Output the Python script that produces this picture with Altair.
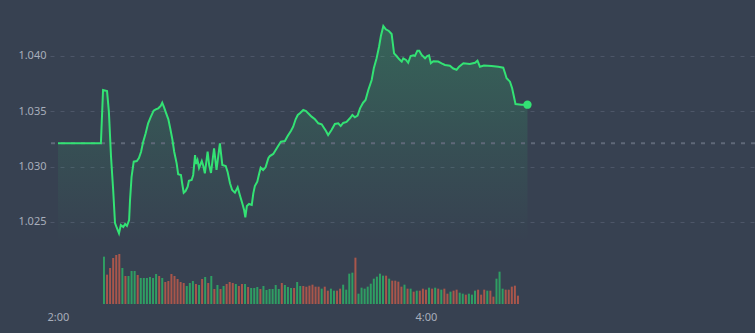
import altair as alt
import pandas as pd

# ---- price line (minutes after 2:00, price) ----
minutes = [0, 14.0, 14.7, 16.0, 16.6, 17.3, 18.0, 18.6, 19.2, 19.9, 20.5, 21.3, 21.9, 22.5, 23.2, 23.5,
           24.0, 24.7, 25.7, 26.4, 27.1, 27.8, 28.6, 29.4, 30.3, 31.2, 31.9, 32.7, 33.5, 34.0, 34.6,
           35.2, 36.0, 36.6, 37.3, 37.9, 38.7, 39.2, 40.1, 40.5, 41.0, 41.6, 42.3, 42.7, 43.6, 44.1,
           44.7, 45.0, 45.5, 46.0, 46.9, 47.4, 47.9, 48.8, 49.3, 49.9, 50.9, 51.7, 52.8, 53.6, 54.7,
           55.3, 56.1, 56.8, 57.7, 58.6, 59.3, 60.1, 60.7, 61.1, 61.6, 62.3, 63.2, 63.7, 64.2, 65.0,
           65.5, 66.1, 66.9, 67.7, 68.6, 69.1, 70.2, 71.0, 71.8, 72.7, 74.0, 74.9, 76.0, 76.7, 77.5,
           78.2, 78.9, 80.0, 80.9, 81.6, 82.7, 83.8, 84.9, 86.0, 86.5, 87.4, 88.1, 89.2, 90.3, 91.4,
           92.2, 93.0, 94.1, 95.2, 96.0, 96.8, 97.7, 98.5, 99.5, 100.3, 101.2, 102.3, 103.0, 103.9,
           104.7, 105.3, 106.1, 106.9, 107.9, 108.8, 109.6, 110.4, 111.3, 112.1, 112.6, 113.5, 114.2,
           115.0, 115.9, 116.4, 117.2, 117.8, 118.6, 119.7, 120.4, 121.0, 121.6, 122.4, 124.0, 125.1,
           126.2, 127.8, 128.9, 130.0, 130.8, 132.2, 134.3, 136.0, 136.8, 137.6, 138.9, 141.4, 143.6,
           145.2, 145.8, 146.3, 147.4, 148.1, 148.8, 149.2, 151.2, 153.1]
prices = [1.03211, 1.03211, 1.03693, 1.03684, 1.03497, 1.03090, 1.02789, 1.02491, 1.02446, 1.02398,
          1.02473, 1.02455, 1.02482, 1.02464, 1.02518, 1.02699, 1.02909, 1.03045, 1.03051, 1.03078,
          1.03135, 1.03226, 1.03302, 1.03392, 1.03452, 1.03506, 1.03518, 1.03527, 1.03548, 1.03578,
          1.03536, 1.03488, 1.03428, 1.03347, 1.03247, 1.03135, 1.03030, 1.02931, 1.02925, 1.02850,
          1.02765, 1.02780, 1.02819, 1.02873, 1.02880, 1.02925, 1.03105, 1.03024, 1.03060, 1.02988,
          1.03051, 1.03006, 1.02940, 1.03135, 1.03015, 1.02943, 1.03166, 1.02970, 1.03211, 1.03015,
          1.03006, 1.02955, 1.02850, 1.02789, 1.02765, 1.02814, 1.02744, 1.02669, 1.02608, 1.02542,
          1.02645, 1.02663, 1.02654, 1.02759, 1.02825, 1.02864, 1.02925, 1.02991, 1.02970, 1.02994,
          1.03076, 1.03096, 1.03115, 1.03151, 1.03187, 1.03226, 1.03232, 1.03277, 1.03325, 1.03361,
          1.03428, 1.03467, 1.03482, 1.03512, 1.03503, 1.03482, 1.03452, 1.03428, 1.03392, 1.03383,
          1.03361, 1.03322, 1.03286, 1.03331, 1.03386, 1.03392, 1.03367, 1.03395, 1.03404, 1.03437,
          1.03467, 1.03446, 1.03461, 1.03527, 1.03578, 1.03602, 1.03693, 1.03783, 1.03889, 1.03979,
          1.04084, 1.04181, 1.04271, 1.04241, 1.04226, 1.04199, 1.04024, 1.04000, 1.03970, 1.03949,
          1.03979, 1.03964, 1.03939, 1.04000, 1.04006, 1.04000, 1.04048, 1.04048, 1.04009, 1.03979,
          1.04000, 1.04006, 1.03934, 1.03952, 1.03950, 1.03934, 1.03919, 1.03912, 1.03887, 1.03876,
          1.03903, 1.03934, 1.03928, 1.03939, 1.03958, 1.03903, 1.03914, 1.03910, 1.03903, 1.03894,
          1.03844, 1.03799, 1.03768, 1.03708, 1.03618, 1.03566, 1.03560, 1.03560]
prev_close = 1.03211

# ---- volume bars (one per minute, from 2:15) ----
vol_minutes = list(range(15, 151))
volumes = [142, 88, 108, 138, 147, 150, 108, 84, 84, 99, 99, 87, 78, 78, 78, 81, 78, 90, 84, 78,
           66, 69, 90, 84, 75, 66, 63, 54, 63, 69, 60, 57, 75, 81, 63, 84, 45, 57, 45, 54,
           60, 66, 63, 60, 54, 60, 60, 51, 48, 48, 51, 45, 54, 42, 45, 45, 57, 45, 63, 57,
           51, 48, 48, 66, 54, 54,
           52, 55, 58, 52, 52, 46, 52, 40, 46, 40, 40, 46, 58, 43, 91, 94, 139, 31, 49, 46,
           52, 61, 76, 82, 91, 85, 85, 76, 70, 70, 67, 52, 58, 46, 46, 37, 40, 40, 46, 43,
           49, 46, 49, 46, 43, 46, 31, 37, 40, 43, 34, 31, 28, 31, 28, 40, 43, 28, 43, 40,
           40, 22, 76, 97, 46, 43, 43, 52, 55, 25]
directions = list(
    "GRRRRRGRGGGRGGGGGGRG"
    "RRRRRRRGGGRGRGRGRGRG"
    "RRRGRRGRGGGRGGGGGGRG"
    "GGRGGR"
    "RRRRRGRRGGRRGGGGRGGG"
    "GGGGGGRGRRRRGRGRGRRR"
    "GRGRGRRGRRGGRGGGRRRG"
    "RRGGGRRRRR"
)

price_df = pd.DataFrame({"m": minutes, "price": prices})
last_df = price_df.tail(1)
vol_df = pd.DataFrame({"m": vol_minutes, "vol": volumes, "dir": directions})
base_df = pd.DataFrame({"price": [prev_close]})

BG = "#374151"
LINE = "#33e274"
FONT = "Noto Sans"

x_scale = alt.Scale(domain=[-2.6, 227.3], nice=False, zero=False, padding=0)
x_axis = alt.Axis(values=[0, 120], labelExpr="(2 + floor(datum.value / 60)) + ':00'",
                  grid=False, ticks=False, domain=False, labelPadding=7, labelFlush=False,
                  labelColor="#a7aebb", labelFontSize=11, labelFont=FONT, title=None)
y_scale = alt.Scale(domain=[1.01759, 1.04506], nice=False, zero=False)
y_axis = alt.Axis(values=[1.025, 1.03, 1.035, 1.04], format=".3f", grid=True, gridDash=[4, 6],
                  gridColor="#4d5668", gridWidth=1, ticks=False, domain=False, labelPadding=4,
                  labelColor="#a7aebb", labelFontSize=11, labelFont=FONT, title=None)

X = alt.X("m:Q", scale=x_scale, axis=x_axis)
Y = alt.Y("price:Q", scale=y_scale, axis=y_axis, stack=None)

baseline = alt.Chart(base_df).mark_rule(color="#5f6878", strokeWidth=2, strokeDash=[4, 6]).encode(
    y=alt.Y("price:Q", scale=y_scale, axis=y_axis)
)

area = alt.Chart(price_df).mark_area(
    color=alt.Gradient(
        gradient="linear",
        stops=[alt.GradientStop(color="rgba(51,226,116,0.22)", offset=0),
               alt.GradientStop(color="rgba(51,226,116,0.08)", offset=0.6),
               alt.GradientStop(color="rgba(51,226,116,0)", offset=1)],
        x1=1, x2=1, y1=0, y2=1,
    ),
    interpolate="linear",
).encode(x=X, y=Y, y2=alt.value(242))

line = alt.Chart(price_df).mark_line(color=LINE, strokeWidth=2).encode(x=X, y=Y)
dot = alt.Chart(last_df).mark_circle(color=LINE, size=70, opacity=1).encode(x=X, y=Y)

price_layer = alt.layer(area, baseline, line, dot)

bars = alt.Chart(vol_df).mark_bar(size=2).encode(
    x=X,
    y=alt.Y("vol:Q", scale=alt.Scale(domain=[0, 912], nice=False), axis=None),
    color=alt.Color("dir:N", scale=alt.Scale(domain=["G", "R"], range=["#2f9e63", "#a9564b"]), legend=None),
)

chart = alt.layer(price_layer, bars).resolve_scale(y="independent").properties(
    width=705, height=304,
    background=BG,
    padding={"left": 50, "top": 0, "right": 0, "bottom": 29},
    autosize=alt.AutoSizeParams(type="none"),
).configure_view(stroke=None)

chart.save("out.html", embed_options={"renderer": "svg", "actions": False})
